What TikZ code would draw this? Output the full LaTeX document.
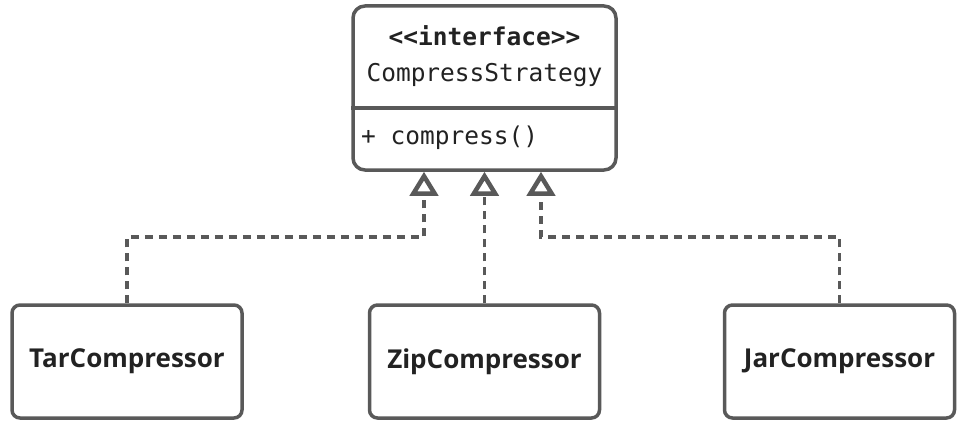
\documentclass[tikz,border=0pt]{standalone}
\usepackage{fontspec}
\setmainfont{Open Sans}
\newfontfamily\monof{DejaVu Sans Mono}
\usetikzlibrary{arrows.meta}
\definecolor{linec}{HTML}{595959}
\definecolor{textc}{HTML}{222222}
\tikzset{
  classbox/.style={draw=linec, line width=3.5pt, rounded corners=8pt, fill=white,
    minimum width=230pt, minimum height=113pt, inner sep=0pt,
    font=\fontsize{26}{30}\selectfont\bfseries, text=textc},
  realize/.style={draw=linec, line width=3.5pt, dash pattern=on 8pt off 6pt,
    -{Triangle[open, length=24pt, width=28pt, line width=4.5pt, fill=white]}},
  monotext/.style={inner sep=0pt, text=textc, font=\monof\fontsize{24.5}{28}\selectfont}
}
\begin{document}
\begin{tikzpicture}[x=1pt,y=-1pt]
\useasboundingbox (0,0) rectangle (966,425);
% interface box
\node[draw=linec, line width=3.5pt, rounded corners=12pt, fill=white,
  minimum width=263pt, minimum height=164pt, inner sep=0pt] (iface) at (484.5,88) {};
\draw[linec, line width=3.5pt] (iface.west |- 0,108) coordinate (dl) -- (iface.east |- 0,108) coordinate (dr);
\node[monotext, font=\monof\bfseries\fontsize{24.5}{28}\selectfont] (stereo) at (484.5,36) {<<interface>>};
\node[monotext] (iname) at (484.5,75) {CompressStrategy};
\node[monotext, anchor=west] (meth) at (361,138) {+ compress()};
% implementing classes
\node[classbox] (tar) at (127,361.5) {TarCompressor};
\node[classbox] (zip) at (484.5,361.5) {ZipCompressor};
\node[classbox] (jar) at (839.5,361.5) {JarCompressor};
% connectors
\coordinate (t1) at (127,237);
\coordinate (t2) at (424,237);
\coordinate (j1) at (839.5,237);
\coordinate (j2) at (541,237);
\draw[realize] (tar.north) -- (t1) -- (t2) -- (t2 |- iface.south);
\draw[realize] (zip.north) -- (zip.north |- iface.south);
\draw[realize] (jar.north) -- (j1) -- (j2) -- (j2 |- iface.south);
\end{tikzpicture}
\end{document}
